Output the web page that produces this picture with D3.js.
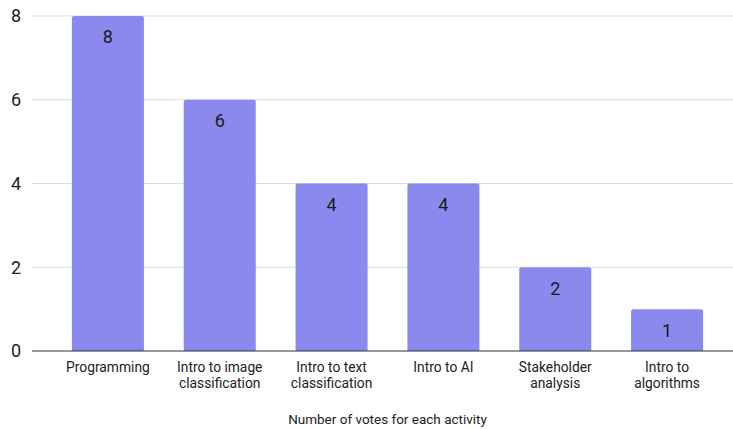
<!DOCTYPE html>
<html>
<head>
<meta charset="utf-8">
<script src="https://cdn.jsdelivr.net/npm/d3@7"></script>
<style>
  html, body { margin: 0; padding: 0; background: #fff; }
  svg { display: block; font-family: Roboto, "Noto Sans", sans-serif; }
</style>
</head>
<body>
<svg id="chart" width="733" height="429"></svg>
<script>
// Votes per workshop activity
const categories = [
  ["Programming"],
  ["Intro to image", "classification"],
  ["Intro to text", "classification"],
  ["Intro to AI"],
  ["Stakeholder", "analysis"],
  ["Intro to", "algorithms"]
];
const votes = [8, 6, 4, 4, 2, 1];
const yTicks = [0, 2, 4, 6, 8];
const xTitle = "Number of votes for each activity";

const svg = d3.select("#chart");
const gridLeft = 32, gridRight = 733;
const bandLeft = 52, bandRight = 723;
const plotTop = 16, plotBottom = 351;

const x = d3.scaleBand()
  .domain(d3.range(votes.length))
  .range([bandLeft, bandRight])
  .paddingInner(0.356)
  .paddingOuter(0.178);

const y = d3.scaleLinear().domain([0, 8]).range([plotBottom, plotTop]);

// horizontal gridlines
svg.append("g").selectAll("line")
  .data(yTicks.filter(t => t !== 0))
  .join("line")
  .attr("x1", gridLeft).attr("x2", gridRight)
  .attr("y1", d => y(d)).attr("y2", d => y(d))
  .attr("stroke", "#dcdcdc").attr("stroke-width", 1.2);

// y tick labels
svg.append("g").selectAll("text")
  .data(yTicks)
  .join("text")
  .attr("x", 21).attr("y", d => y(d))
  .attr("dy", "0.36em")
  .attr("text-anchor", "end")
  .attr("font-size", 18)
  .attr("fill", "#222")
  .text(d => d);

// bars with slightly rounded tops
const r = 2;
svg.append("g").selectAll("path")
  .data(votes)
  .join("path")
  .attr("fill", "#8a8aee")
  .attr("d", (d, i) => {
    const x0 = x(i), w = x.bandwidth(), y0 = y(d), y1 = y(0);
    return `M${x0},${y1}V${y0 + r}Q${x0},${y0} ${x0 + r},${y0}H${x0 + w - r}Q${x0 + w},${y0} ${x0 + w},${y0 + r}V${y1}Z`;
  });

// value labels inside bar tops
svg.append("g").selectAll("text")
  .data(votes)
  .join("text")
  .attr("x", (d, i) => x(i) + x.bandwidth() / 2)
  .attr("y", d => y(d) + 21)
  .attr("dy", "0.36em")
  .attr("text-anchor", "middle")
  .attr("font-size", 18)
  .attr("fill", "#1a1a1a")
  .text(d => d);

// baseline
svg.append("line")
  .attr("x1", gridLeft).attr("x2", gridRight)
  .attr("y1", y(0)).attr("y2", y(0))
  .attr("stroke", "#333").attr("stroke-width", 1.2);

// category labels
const catG = svg.append("g").selectAll("text")
  .data(categories)
  .join("text")
  .attr("text-anchor", "middle")
  .attr("font-size", 13.8)
  .attr("fill", "#222")
  .attr("x", (d, i) => x(i) + x.bandwidth() / 2)
  .attr("y", 372);
catG.selectAll("tspan")
  .data(d => d)
  .join("tspan")
  .attr("x", function () { return d3.select(this.parentNode).attr("x"); })
  .attr("dy", (d, i) => i === 0 ? 0 : 16)
  .text(d => d);

// axis title
svg.append("text")
  .attr("x", (bandLeft + bandRight) / 2)
  .attr("y", 424)
  .attr("text-anchor", "middle")
  .attr("font-size", 13.5)
  .attr("fill", "#222")
  .text(xTitle);
</script>
</body>
</html>
